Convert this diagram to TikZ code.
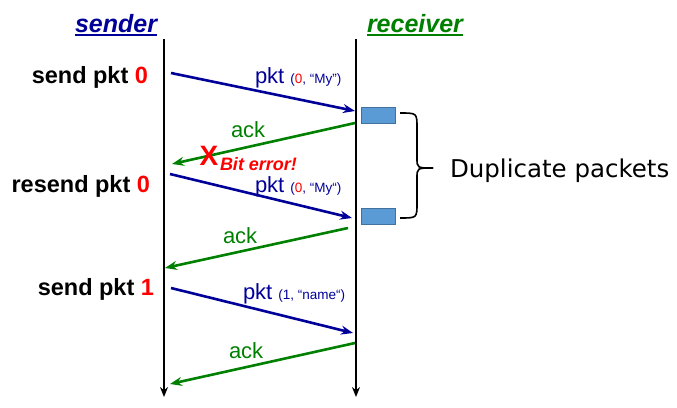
\documentclass[tikz,border=0pt]{standalone}
\usepackage{fontspec}
\setmainfont{Liberation Sans}
\newfontfamily\dejavu{DejaVu Sans}
\usetikzlibrary{arrows.meta}
\definecolor{navy}{RGB}{0,0,153}
\definecolor{ackgreen}{RGB}{0,128,0}
\definecolor{pktred}{RGB}{255,0,0}
\definecolor{boxfill}{RGB}{91,155,213}
\definecolor{boxedge}{RGB}{65,113,156}
\begin{document}
\begin{tikzpicture}[x=1pt,y=-1pt,
  txt/.style={inner sep=0pt,outer sep=0pt},
  hdr/.style={txt,anchor=base west,font=\fontsize{25}{30}\selectfont\bfseries\itshape},
  evt/.style={txt,anchor=base east,font=\fontsize{23.5}{27}\selectfont\bfseries},
  lbl/.style={txt,anchor=base west,font=\fontsize{22}{26}\selectfont},
  timeline/.style={line width=2.4pt,-{Stealth[length=10pt,width=8pt]}},
  pktarrow/.style={navy,line width=2.6pt,-{Stealth[length=12pt,width=9pt]}},
  ackarrow/.style={ackgreen,line width=2.6pt,-{Stealth[length=12pt,width=9pt]}},
  pktbox/.style={draw=boxedge,fill=boxfill,line width=1pt}
]
\useasboundingbox (0,0) rectangle (677,407);
% headers
\node[hdr,text=navy] (snd) at (75,32) {sender};
\node[hdr,text=ackgreen] (rcv) at (367,32) {receiver};
\draw[navy,line width=2pt] ([yshift=-3pt]snd.base west) -- ([yshift=-3pt]snd.base east);
\draw[ackgreen,line width=2pt] ([yshift=-3pt]rcv.base west) -- ([yshift=-3pt]rcv.base east);
% timelines
\coordinate (sTop) at (164,39);
\coordinate (sBot) at (164,397);
\coordinate (rTop) at (356,39);
\coordinate (rBot) at (356,397);
\draw[timeline] (sTop) -- (sBot);
\draw[timeline] (rTop) -- (rBot);
% events at sender
\node[evt] (e1) at (148,83) {send pkt \textcolor{pktred}{0}};
\node[evt] (e2) at (150,192) {resend pkt \textcolor{pktred}{0}};
\node[evt] (e3) at (154,295) {send pkt \textcolor{pktred}{1}};
% arrow endpoints
\coordinate (a1s) at (171,73);  \coordinate (a1e) at (355,111);
\coordinate (b1s) at (355,123); \coordinate (b1e) at (172,164);
\coordinate (a2s) at (170,174); \coordinate (a2e) at (352,218);
\coordinate (b2s) at (348,228); \coordinate (b2e) at (165,268);
\coordinate (a3s) at (171,288); \coordinate (a3e) at (353,333);
\coordinate (b3s) at (355,343); \coordinate (b3e) at (170,384);
\draw[pktarrow] (a1s) -- (a1e);
\draw[ackarrow] (b1s) -- (b1e);
\draw[pktarrow] (a2s) -- (a2e);
\draw[ackarrow] (b2s) -- (b2e);
\draw[pktarrow] (a3s) -- (a3e);
\draw[ackarrow] (b3s) -- (b3e);
% labels
\node[lbl,text=navy] (l1) at (255,83) {pkt {\fontsize{13.5}{16}\selectfont(\textcolor{pktred}{0}, “My”)}};
\node[lbl,text=navy] (l2) at (255,192) {pkt {\fontsize{13.5}{16}\selectfont(\textcolor{pktred}{0}, “My“)}};
\node[lbl,text=navy] (l3) at (243,299) {pkt {\fontsize{13.5}{16}\selectfont(1, “name“)}};
\node[lbl,text=ackgreen] (k1) at (231,137) {ack};
\node[lbl,text=ackgreen] (k2) at (223,243) {ack};
\node[lbl,text=ackgreen] (k3) at (229,358) {ack};
% bit error
\node[txt,text=pktred,font=\fontsize{28}{32}\selectfont\bfseries] (x) at (209,156) {X};
\node[txt,anchor=base west,text=pktred,font=\fontsize{18}{22}\selectfont\bfseries\itshape] (be) at (220,170) {Bit error!};
% received packets
\node[pktbox,minimum width=34pt,minimum height=16pt,inner sep=0pt] (p1) at (378,115) {};
\node[pktbox,minimum width=34pt,minimum height=16pt,inner sep=0pt] (p2) at (378,216) {};
% brace
\coordinate (brT) at (400,113);
\coordinate (brB) at (400,218);
\coordinate (brM) at (433,168);
\draw[line width=1.6pt] (brT) .. controls (417,113) .. (417,128) -- (417,158) .. controls (417,168) .. (brM);
\draw[line width=1.6pt] (brB) .. controls (417,218) .. (417,203) -- (417,178) .. controls (417,168) .. (brM);
\node[txt,anchor=base west,font=\dejavu\fontsize{24.5}{29}\selectfont] (dup) at (450,177) {Duplicate packets};
\end{tikzpicture}
\end{document}
